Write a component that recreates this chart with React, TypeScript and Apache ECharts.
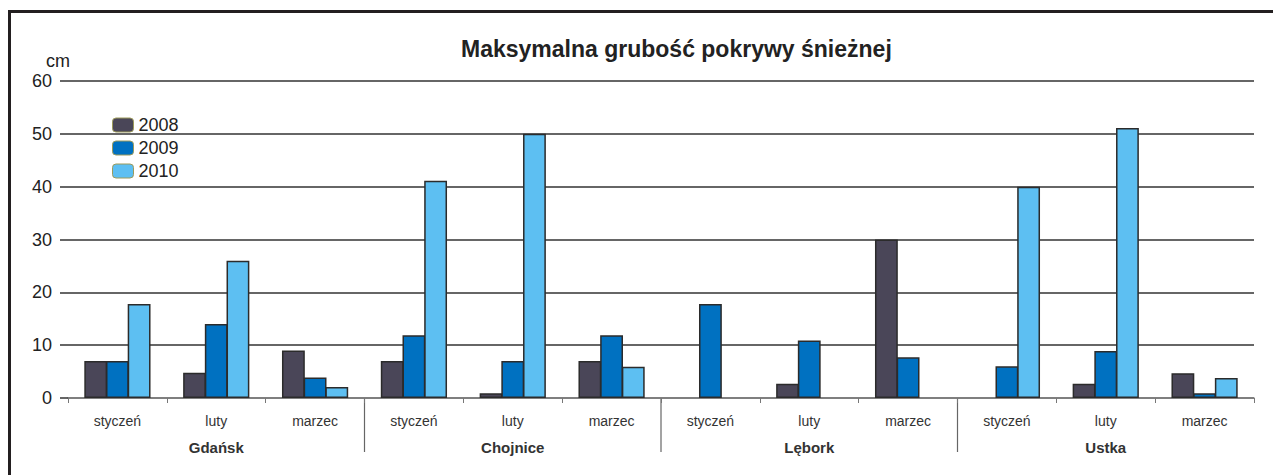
import React, { useEffect, useRef } from "react";
import * as echarts from "echarts";

const months = ["styczeń", "luty", "marzec", "styczeń", "luty", "marzec", "styczeń", "luty", "marzec", "styczeń", "luty", "marzec"];
const cities = ["Gdańsk", "Chojnice", "Lębork", "Ustka"];
const seriesNames = ["2008", "2009", "2010"];
const v2008 = [7, 4.8, 9, 7, 0.9, 7, null, 2.7, 30, null, 2.7, 4.7];
const v2009 = [7, 14, 3.9, 11.9, 7, 11.9, 17.8, 10.9, 7.7, 6, 8.9, 0.9];
const v2010 = [17.8, 26, 2.1, 41.1, 50, 5.9, null, null, null, 40, 51.1, 3.8];
const yTicks = { min: 0, max: 60, interval: 10 };

const colors = ["#4a4658", "#0071c1", "#5dbff2"];

const W = 1273;
const H = 475;
const gridLeft = 68;
const gridRight = 19;
const gridTop = 81;
const gridBottom = 77;
const FONT = "Liberation Sans, Arial, sans-serif";

export default function App() {
  const ref = useRef<HTMLDivElement>(null);
  useEffect(() => {
    if (!ref.current) return;
    const chart = echarts.init(ref.current, undefined, { renderer: "svg" });
    const plotW = W - gridLeft - gridRight;
    const catW = plotW / months.length;
    const axisY = H - gridBottom;
    const sepLines = [1, 2, 3].map((k) => ({
      type: "line",
      shape: { x1: gridLeft + 3 * k * catW, y1: axisY, x2: gridLeft + 3 * k * catW, y2: axisY + 54 },
      style: { stroke: "#666", lineWidth: 1.2 },
      silent: true,
    }));
    const seriesData = [v2008, v2009, v2010];
    chart.setOption({
      animation: false,
      backgroundColor: "#fff",
      title: {
        text: "Maksymalna grubość pokrywy śnieżnej",
        left: 456,
        top: 32,
        textStyle: { fontFamily: FONT, fontSize: 23, fontWeight: "bold", color: "#222" },
      },
      legend: {
        orient: "vertical",
        left: 107,
        top: 111,
        itemWidth: 21,
        itemHeight: 14,
        itemGap: 5,
        data: seriesNames,
        itemStyle: { borderColor: "#9c9a5a", borderWidth: 1 },
        textStyle: { fontFamily: FONT, fontSize: 18, color: "#222" },
      },
      grid: { left: gridLeft, right: gridRight, top: gridTop, bottom: gridBottom, containLabel: false },
      xAxis: [
        {
          type: "category",
          data: months,
          position: "bottom",
          axisLine: { show: true, lineStyle: { color: "#888", width: 1.5 } },
          axisTick: { show: true, length: 5, lineStyle: { color: "#777" } },
          axisLabel: {
            interval: 0,
            margin: 16,
            fontFamily: FONT,
            fontSize: 14,
            color: "#333",
          },
        },
        {
          type: "category",
          data: cities,
          position: "bottom",
          axisLine: { show: false },
          axisTick: { show: false },
          axisLabel: {
            interval: 0,
            margin: 42,
            fontFamily: FONT,
            fontSize: 15,
            fontWeight: "bold",
            color: "#333",
          },
        },
      ],
      yAxis: {
        type: "value",
        min: yTicks.min,
        max: yTicks.max,
        interval: yTicks.interval,
        axisLine: { show: false },
        axisTick: { show: true, length: 8, lineStyle: { color: "#333", width: 1.5 } },
        axisLabel: { margin: 16, fontFamily: FONT, fontSize: 18, color: "#222" },
        splitLine: { show: true, lineStyle: { color: "#333", width: 1.5 } },
      },
      series: seriesNames.map((name, i) => ({
        name,
        type: "bar",
        xAxisIndex: 0,
        data: seriesData[i],
        barGap: "-5%",
        barCategoryGap: "33%",
        itemStyle: { color: colors[i], borderColor: "#2b2b2b", borderWidth: 1.5 },
      })),
      graphic: [
        {
          type: "text",
          left: 46,
          top: 52,
          style: { text: "cm", fontFamily: FONT, fontSize: 18, fill: "#222" },
        },
        {
          type: "line",
          shape: { x1: 9.5, y1: 11, x2: 9.5, y2: H },
          style: { stroke: "#231f20", lineWidth: 3 },
        },
        {
          type: "line",
          shape: { x1: 8, y1: 11.5, x2: W, y2: 11.5 },
          style: { stroke: "#231f20", lineWidth: 3 },
        },
        ...sepLines,
      ],
    });
    return () => chart.dispose();
  }, []);
  return <div ref={ref} style={{ position: "fixed", left: 0, top: 0, width: W, height: H }} />;
}
